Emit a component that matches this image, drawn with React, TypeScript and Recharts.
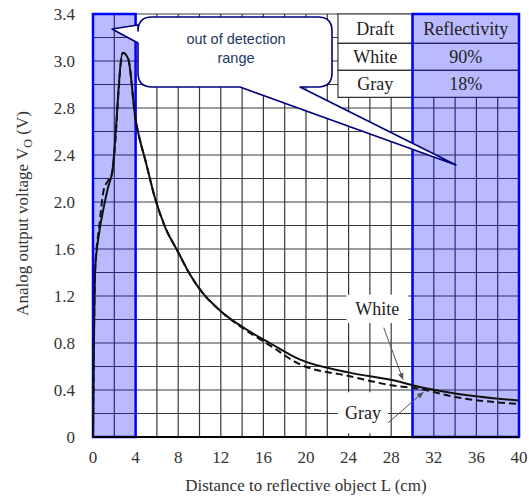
import { LineChart, Line, XAxis, YAxis, CartesianGrid, ReferenceArea, ReferenceLine } from "recharts";

// distance L (cm) and output voltage
// (y is stored in axis position units: tick "3.0" sits at 3.2 and "3.4" at 3.6)
const distance = [0, 0.2, 0.6, 1, 1.4, 1.8, 2.8, 3.3, 4, 4.4, 4.9, 5.8, 6.8, 7.9, 9, 10, 12, 14.5, 16.6, 19.4, 24, 28.8, 30, 34, 40];
const whiteVolts = [0, 1.42, 1.75, 1.95, 2.12, 2.25, 3.27, 3.22, 2.7, 2.53, 2.36, 2.04, 1.78, 1.59, 1.4, 1.26, 1.07, 0.91, 0.8, 0.66, 0.55, 0.47, 0.44, 0.37, 0.31];
const grayVolts = [0, 1.42, 1.8, 2.1, 2.18, 2.25, 3.27, 3.22, 2.7, 2.53, 2.36, 2.04, 1.78, 1.59, 1.4, 1.26, 1.07, 0.9, 0.78, 0.62, 0.52, 0.43, 0.42, 0.34, 0.28];

const xTicks = [0, 2, 4, 6, 8, 10, 12, 14, 16, 18, 20, 22, 24, 26, 28, 30, 32, 34, 36, 38, 40];
const yTicks = [0, 0.2, 0.4, 0.6, 0.8, 1, 1.2, 1.4, 1.6, 1.8, 2, 2.2, 2.4, 2.6, 2.8, 3, 3.2, 3.4, 3.6];
const yTickLabels = ["0", "0.4", "0.8", "1.2", "1.6", "2.0", "2.4", "2.8", "3.0", "3.4"];

const tableHead = ["Draft", "Reflectivity"];
const drafts = ["White", "Gray"];
const reflectivity = ["90%", "18%"];

const rows = distance.map((x, i) => ({ x, white: whiteVolts[i], gray: grayVolts[i] }));

const serif = "'Liberation Serif', 'Times New Roman', serif";
const sans = "'Liberation Sans', Arial, sans-serif";
const BLUE = "#0000ff";

const fmtY = (v: number) => {
  const i = Math.round(v / 0.2);
  return i % 2 ? "" : yTickLabels[i / 2];
};

const YLabel = ({ viewBox }: any) => {
  const cy = viewBox.y + viewBox.height / 2 - 12;
  return (
    <text x={28} y={cy} transform={`rotate(-90 28 ${cy})`} textAnchor="middle" fill="#333" fontSize={17} fontFamily={serif}>
      Analog output voltage V<tspan fontSize={12} dy={4}>O</tspan><tspan dy={-4}> (V)</tspan>
    </text>
  );
};

export default function App() {
  // table geometry in axis units
  const rowEdges = [3.6, 3.35, 3.12, 2.89];
  const colEdges = [23, 30, 40];
  const cells = [tableHead, [drafts[0], reflectivity[0]], [drafts[1], reflectivity[1]]];
  const cellLabel = (value: string) => ({ value, position: "center" as const, fill: "#222", fontSize: 18, fontFamily: serif });

  return (
    <div style={{ position: "absolute", left: 0, top: 0, width: 529, height: 497, background: "#fff" }}>
      <LineChart width={529} height={497} data={rows} margin={{ top: 14, right: 10, left: 0, bottom: 0 }}>
        <defs>
          <marker id="arrowHead" viewBox="0 0 10 10" refX="9" refY="5" markerWidth="7" markerHeight="7" orient="auto">
            <path d="M0,1 L10,5 L0,9 z" fill="#555" />
          </marker>
        </defs>
        <CartesianGrid stroke="#3a3a3a" strokeWidth={1.2} />
        <XAxis
          type="number" dataKey="x" domain={[0, 40]} ticks={xTicks} interval={0}
          tickFormatter={(v: number) => (v % 4 === 0 ? String(v) : "")}
          height={60} tickLine={false} tickMargin={8}
          axisLine={{ stroke: "#000", strokeWidth: 2 }}
          tick={{ fill: "#333", fontSize: 17, fontFamily: serif }}
          label={{ value: "Distance to reflective object L (cm)", position: "insideBottom", offset: 6, fill: "#333", fontSize: 17, fontFamily: serif }}
        />
        <YAxis
          type="number" domain={[0, 3.6]} ticks={yTicks} interval={0} tickFormatter={fmtY}
          width={93} tickLine={false} axisLine={false} tickMargin={12}
          tick={{ fill: "#333", fontSize: 17, fontFamily: serif }}
          label={<YLabel />}
        />

        {cells.map((row, r) =>
          row.map((txt, c) => (
            <ReferenceArea
              key={`cell-${r}-${c}`}
              x1={colEdges[c]} x2={colEdges[c + 1]} y1={rowEdges[r + 1]} y2={rowEdges[r]}
              fill="#fff" fillOpacity={1} stroke="#333" strokeWidth={1.2}
              label={cellLabel(txt)}
            />
          ))
        )}

        <ReferenceArea x1={0} x2={4} y1={0} y2={3.6} fill={BLUE} fillOpacity={0.27} stroke={BLUE} strokeWidth={2.5} />
        <ReferenceArea x1={30} x2={40} y1={0} y2={3.6} fill={BLUE} fillOpacity={0.27} stroke={BLUE} strokeWidth={2.5} />

        <ReferenceArea x1={23.8} x2={29.6} y1={0.97} y2={1.21} fill="#fff" fillOpacity={1} stroke="none"
          label={{ value: "White", position: "center", fill: "#222", fontSize: 18, fontFamily: serif }} />
        <ReferenceArea x1={23} x2={27.7} y1={0.03} y2={0.38} fill="#fff" fillOpacity={1} stroke="none"
          label={{ value: "Gray", position: "center", fill: "#222", fontSize: 18, fontFamily: serif }} />
        <ReferenceLine segment={[{ x: 27.3, y: 0.93 }, { x: 29.1, y: 0.49 }]} stroke="#555" strokeWidth={1} markerEnd="url(#arrowHead)" />
        <ReferenceLine segment={[{ x: 27.7, y: 0.12 }, { x: 31, y: 0.38 }]} stroke="#555" strokeWidth={1} markerEnd="url(#arrowHead)" />

        <Line type="monotone" dataKey="white" stroke="#111" strokeWidth={2} dot={false} isAnimationActive={false} />
        <Line type="monotone" dataKey="gray" stroke="#111" strokeWidth={2} strokeDasharray="7 4" dot={false} isAnimationActive={false} />
      </LineChart>

      {/* callout bubble */}
      <svg width={529} height={497} style={{ position: "absolute", left: 0, top: 0, pointerEvents: "none" }}>
        <path
          d="M152,17 L318,17 Q332,17 332,31 L332,73 Q332,87 318,87 L300,87 L456,165 L240,87 L152,87 Q138,87 138,73 L138,43 L112,29 L138,25 L138,31 Q138,17 152,17 Z"
          fill="#fff" stroke="#000080" strokeWidth={1.6} strokeLinejoin="round"
        />
        <text x={236} y={44} textAnchor="middle" fill="#1f3864" fontSize={14.5} fontFamily={sans}>out of detection</text>
        <text x={236} y={63} textAnchor="middle" fill="#1f3864" fontSize={14.5} fontFamily={sans}>range</text>
      </svg>
    </div>
  );
}
